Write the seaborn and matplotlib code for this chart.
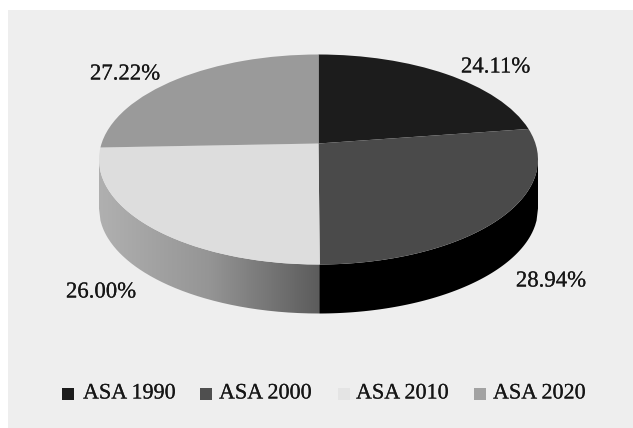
import numpy as np
import matplotlib
matplotlib.use("Agg")
import matplotlib.pyplot as plt
import matplotlib.patheffects as pe
from matplotlib.patches import Rectangle, PathPatch
from matplotlib.path import Path
from matplotlib.transforms import Transform
import seaborn as sns

categories = ["ASA 1990", "ASA 2000", "ASA 2010", "ASA 2020"]
values = [24.11, 28.94, 26.00, 27.22]
colors = ["#1c1c1c", "#4a4a4a", "#dddddd", "#9a9a9a"]
swatch_colors = ["#1c1c1c", "#4f4f4f", "#e4e4e4", "#a2a2a2"]

W, H = 633, 428
RX, RY = 219.5, 105.0
CX, CY = 318.5, 159.5   # centre of the top ellipse, in pixels
DEPTH = 49
HUB = 16.0              # the pie's centre sits above the ellipse's centre


class Perspective(Transform):
    # tilts the unit disc of the pie to the ellipse on screen, in pixels
    input_dims = output_dims = 2
    has_inverse = False
    is_separable = False

    def transform_non_affine(self, xy):
        xy = np.asarray(xy)
        d = 1 + HUB / RY * xy[:, 1]
        a = RX * np.sqrt(1 - (HUB / RY) ** 2)
        return np.column_stack((CX + a * xy[:, 0] / d,
                                CY - (RY * xy[:, 1] + HUB) / d))


sns.set_theme(style="white")
plt.rcParams["font.family"] = ["Liberation Serif", "DejaVu Serif"]

fig = plt.figure(figsize=(W / 100, H / 100), dpi=100, facecolor="white")
ax = fig.add_axes([0, 0, 1, 1])

wedges, _ = ax.pie(values, colors=colors, startangle=90, counterclock=False,
                   radius=1, wedgeprops=dict(linewidth=0))
persp = Perspective() + ax.transData
for w in wedges:
    w.set_transform(persp)
    w.set_zorder(3)

ax.set_aspect("auto")
ax.set_xlim(0, W)
ax.set_ylim(H, 0)
ax.axis("off")

ax.add_patch(Rectangle((8, 10), W - 8, H - 10, facecolor="#eeeeee", edgecolor="none", zorder=0))

# side wall of the disc
xs = np.linspace(-RX, RX, 300)
lower = CY + RY * np.sqrt(1 - (xs / RX) ** 2)
wall = np.concatenate([np.column_stack((CX + xs, lower)),
                       np.column_stack((CX + xs, lower + DEPTH))[::-1]])
wall_path = Path(wall)
cmap = sns.blend_palette(["#b0b0b0", "#959595", "#5c5c5c"], as_cmap=True)
img = ax.imshow(np.linspace(0, 1, 256)[None, :], cmap=cmap, aspect="auto", zorder=1,
                extent=(CX - RX, CX, CY + RY + DEPTH + 2, CY - 2))
clip = PathPatch(wall_path, transform=ax.transData, facecolor="none", edgecolor="none")
ax.add_patch(clip)
img.set_clip_path(clip)
ax.set_xlim(0, W)
ax.set_ylim(H, 0)
right = xs >= 0
right_wall = np.concatenate([np.column_stack((CX + xs[right], lower[right])),
                             np.column_stack((CX + xs[right], lower[right] + DEPTH))[::-1]])
ax.fill(right_wall[:, 0], right_wall[:, 1], color="#000000", linewidth=0, zorder=2)

# the reference text is scanned and a little heavier than the plain face
heavy = [pe.withStroke(linewidth=0.12, foreground="#161616")]

# value labels
label_pos = [(495.5, 67), (551, 281), (101, 292), (125, 74)]
for v, (lx, ly) in zip(values, label_pos):
    ax.text(lx, ly, f"{v:.2f}%", ha="center", va="center", fontsize=16.4, color="#161616",
            zorder=5, path_effects=heavy)

# legend
swatch_x = [62, 200, 338, 474]
text_x = [83, 219, 356, 493]
for name, col, sx, tx in zip(categories, swatch_colors, swatch_x, text_x):
    ax.add_patch(Rectangle((sx, 388), 12, 12, facecolor=col, edgecolor="none", zorder=4))
    ax.text(tx, 394, name, ha="left", va="center", fontsize=15.9, color="#161616",
            zorder=5, path_effects=heavy)

fig.savefig("out.png", dpi=100, facecolor="white")
